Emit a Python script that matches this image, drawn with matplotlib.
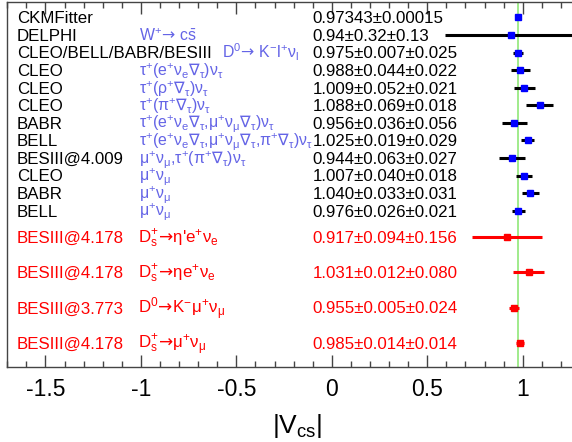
import matplotlib
matplotlib.use('Agg')
import matplotlib.pyplot as plt
from matplotlib.ticker import MultipleLocator
import numpy as np

plt.rcParams['font.family'] = ['Liberation Sans', 'DejaVu Sans']
plt.rcParams['mathtext.fontset'] = 'custom'
plt.rcParams['mathtext.rm'] = 'Liberation Sans'
plt.rcParams['mathtext.it'] = 'Liberation Sans'
plt.rcParams['mathtext.bf'] = 'Liberation Sans:bold'
plt.rcParams['mathtext.sf'] = 'DejaVu Sans'
plt.rcParams['axes.unicode_minus'] = False

AR = r"$\!\mathsf{\rightarrow}\!$"
NB = r"$\mathsf{\nabla}_{\tau}$"

# ---------------- data ----------------
exp_black = ["CKMFitter", "DELPHI", "CLEO/BELL/BABR/BESIII", "CLEO", "CLEO", "CLEO",
             "BABR", "BELL", "BESIII@4.009", "CLEO", "BABR", "BELL"]
mode_black = [
    "",
    "W$^{+}$" + AR + r" c$\bar{s}$",
    "D$^{0}$" + AR + " K$^{-}$l$^{+}$ν$_{l}$",
    "τ$^{+}$(e$^{+}$ν$_{e}$" + NB + r")ν$_{\tau}$",
    "τ$^{+}$(ρ$^{+}$" + NB + r")ν$_{\tau}$",
    "τ$^{+}$(π$^{+}$" + NB + r")ν$_{\tau}$",
    "τ$^{+}$(e$^{+}$ν$_{e}$" + NB + r",μ$^{+}$ν$_{\mu}$" + NB + r")ν$_{\tau}$",
    "τ$^{+}$(e$^{+}$ν$_{e}$" + NB + r",μ$^{+}$ν$_{\mu}$" + NB + ",π$^{+}$" + NB + r")ν$_{\tau}$",
    r"μ$^{+}$ν$_{\mu}$,τ$^{+}$(π$^{+}$" + NB + r")ν$_{\tau}$",
    r"μ$^{+}$ν$_{\mu}$",
    r"μ$^{+}$ν$_{\mu}$",
    r"μ$^{+}$ν$_{\mu}$",
]
val_black = [0.97343, 0.94, 0.975, 0.988, 1.009, 1.088, 0.956, 1.025, 0.944, 1.007, 1.040, 0.976]
stat_black = [0.00015, 0.32, 0.007, 0.044, 0.052, 0.069, 0.036, 0.019, 0.063, 0.040, 0.033, 0.026]
syst_black = [0.0, 0.13, 0.025, 0.022, 0.021, 0.018, 0.056, 0.029, 0.027, 0.018, 0.031, 0.021]
text_black = ["0.97343\u00b10.00015", "0.94\u00b10.32\u00b10.13", "0.975\u00b10.007\u00b10.025",
              "0.988\u00b10.044\u00b10.022", "1.009\u00b10.052\u00b10.021", "1.088\u00b10.069\u00b10.018",
              "0.956\u00b10.036\u00b10.056", "1.025\u00b10.019\u00b10.029", "0.944\u00b10.063\u00b10.027",
              "1.007\u00b10.040\u00b10.018", "1.040\u00b10.033\u00b10.031", "0.976\u00b10.026\u00b10.021"]

exp_red = ["BESIII@4.178", "BESIII@4.178", "BESIII@3.773", "BESIII@4.178"]
mode_red = [
    "D$_{s}^{+}$" + AR + r"η'e$^{+}$ν$_{e}$",
    "D$_{s}^{+}$" + AR + r"ηe$^{+}$ν$_{e}$",
    "D$^{0}$" + AR + r"K$^{-}$μ$^{+}$ν$_{\mu}$",
    "D$_{s}^{+}$" + AR + r"μ$^{+}$ν$_{\mu}$",
]
val_red = [0.917, 1.031, 0.955, 0.985]
stat_red = [0.094, 0.012, 0.005, 0.014]
syst_red = [0.156, 0.080, 0.024, 0.014]
text_red = ["0.917\u00b10.094\u00b10.156", "1.031\u00b10.012\u00b10.080",
            "0.955\u00b10.005\u00b10.024", "0.985\u00b10.014\u00b10.014"]

ckm_ref = 0.97343

# ---------------- layout ----------------
y_black = np.arange(len(exp_black), dtype=float)
y_red = len(exp_black) + 0.5 + 2.0 * np.arange(len(exp_red))

W, H = 572, 442
fig = plt.figure(figsize=(W / 100, H / 100), dpi=100)
ax = fig.add_axes([7.3 / W, 1 - 367.3 / H, 572.7 / W, 365.3 / H])
ax.set_xlim(-1.7, 1.3)
ax.set_ylim(19.89, -0.87)

ax.axvline(ckm_ref, color='#90e878', lw=1.2, zorder=1)

tot_black = np.sqrt(np.array(stat_black) ** 2 + np.array(syst_black) ** 2)
tot_red = np.sqrt(np.array(stat_red) ** 2 + np.array(syst_red) ** 2)

ax.errorbar(val_black, y_black, xerr=tot_black, fmt='s', color='#0000ff', mec='#0000ff',
            ecolor='black', elinewidth=2.2, capsize=0, markersize=4.5, zorder=3)
ax.errorbar(val_red, y_red, xerr=tot_red, fmt='s', color='#ff0000', mec='#ff0000',
            ecolor='#ff0000', elinewidth=2.2, capsize=0, markersize=4.5, zorder=3)

fs = 12.2
fs_mode = 11.4
dy = 0.33
blue_txt = '#6464e6'
x_exp, x_mode, x_mode_wide, x_num = -1.649, -1.01, -0.576, -0.10
for i, y in enumerate(y_black):
    ax.text(x_exp, y + dy, exp_black[i], color='black', fontsize=fs, va='baseline', ha='left')
    if mode_black[i]:
        xm = x_mode_wide if i == 2 else x_mode
        ax.text(xm, y + dy, mode_black[i], color=blue_txt, fontsize=fs_mode, va='baseline', ha='left')
    ax.text(x_num, y + dy, text_black[i], color='black', fontsize=fs, va='baseline', ha='left')

for i, y in enumerate(y_red):
    ax.text(x_exp, y + dy, exp_red[i], color='#ff0000', fontsize=fs, va='baseline', ha='left')
    ax.text(-1.016, y + dy, mode_red[i], color='#ff0000', fontsize=fs, va='baseline', ha='left')
    ax.text(x_num, y + dy, text_red[i], color='#ff0000', fontsize=fs, va='baseline', ha='left')

ax.xaxis.set_major_locator(MultipleLocator(0.5))
ax.xaxis.set_minor_locator(MultipleLocator(0.1))
ax.xaxis.set_major_formatter(matplotlib.ticker.FuncFormatter(lambda v, p: ('%g' % v)))
ax.tick_params(axis='x', which='both', direction='in', top=True, bottom=True,
               labelsize=16.5, pad=8, color='#444444')
ax.tick_params(axis='x', which='major', length=8.4, width=1.0)
ax.tick_params(axis='x', which='minor', length=4.3, width=1.0)
ax.set_yticks([])
for s in ax.spines.values():
    s.set_color('#444444')
    s.set_linewidth(1.0)

fig.text(297 / W, 1 - 433.3 / H, r'$|V_{cs}|$', fontsize=19, ha='center', va='baseline')

fig.savefig('out.png', dpi=100)
